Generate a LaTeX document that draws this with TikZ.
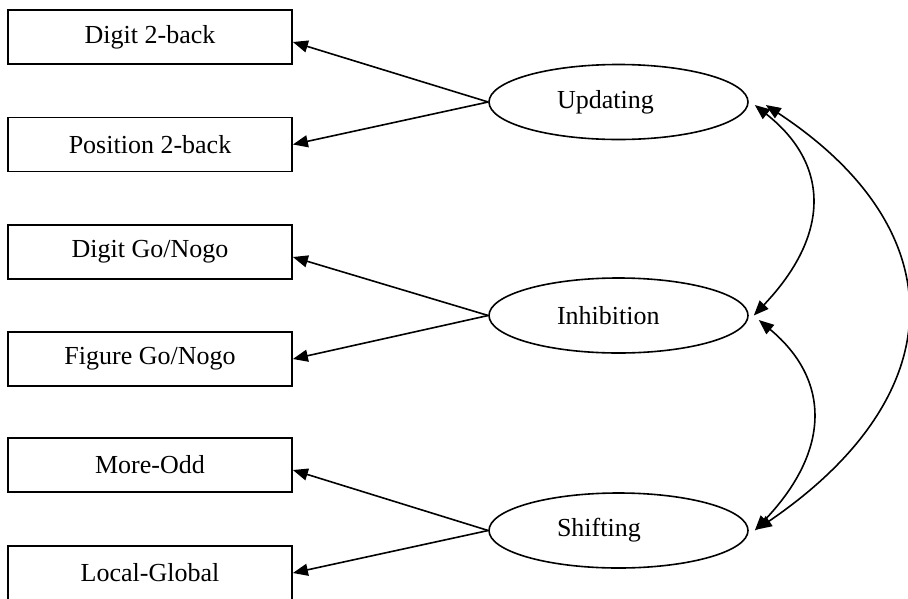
\documentclass[tikz,border=0pt]{standalone}
\usepackage{fontspec}
\setmainfont{Liberation Serif}
\usetikzlibrary{arrows.meta,shapes.geometric}
\begin{document}
\begin{tikzpicture}[x=1pt,y=-1pt,
  taskbox/.style={draw,line width=1.8pt,minimum width=284pt,minimum height=54pt,inner sep=0pt,font=\fontsize{26}{30}\selectfont},
  factor/.style={draw,ellipse,line width=1.6pt,minimum width=259pt,minimum height=75pt,inner sep=0pt,text width=123pt,align=left,font=\fontsize{26}{30}\selectfont},
  load/.style={line width=1.6pt,-{Triangle[length=15pt,width=12pt]}},
  corr/.style={line width=1.6pt,{Triangle[length=15pt,width=12pt]}-{Triangle[length=15pt,width=12pt]}}]
\useasboundingbox (0,0) rectangle (908,598);
\node[taskbox] (b1) at (150,37) {Digit 2-back};
\node[taskbox] (b2) at (150,144.5) {Position 2-back};
\node[taskbox] (b3) at (150,252) {Digit Go/Nogo};
\node[taskbox] (b4) at (150,359) {Figure Go/Nogo};
\node[taskbox] (b5) at (150,465) {More-Odd};
\node[taskbox] (b6) at (150,573) {Local-Global};
\node[factor] (u) at (618.5,102) {Updating};
\node[factor] (i) at (618.5,315.5) {Inhibition};
\node[factor] (s) at (618.5,530.5) {Shifting};
\draw[load] (u.west) -- ([yshift=-5pt]b1.east);
\draw[load] (u.west) -- (b2.east);
\draw[load] (i.west) -- ([yshift=-5pt]b3.east);
\draw[load] (i.west) -- (b4.east);
\draw[load] (s.west) -- ([yshift=-5pt]b5.east);
\draw[load] (s.west) -- (b6.east);
\draw[corr] ([xshift=6pt,yshift=-3pt]u.east) .. controls +(76,60) and +(76,-80) .. ([xshift=5pt]i.east);
\draw[corr] ([xshift=10pt,yshift=-4.5pt]i.east) .. controls +(72,60) and +(76,-80) .. ([xshift=6pt]s.east);
\draw[corr] ([xshift=17pt,yshift=-3pt]u.east) .. controls +(190,125) and +(198,-135) .. ([xshift=8pt,yshift=1pt]s.east);
\end{tikzpicture}
\end{document}
